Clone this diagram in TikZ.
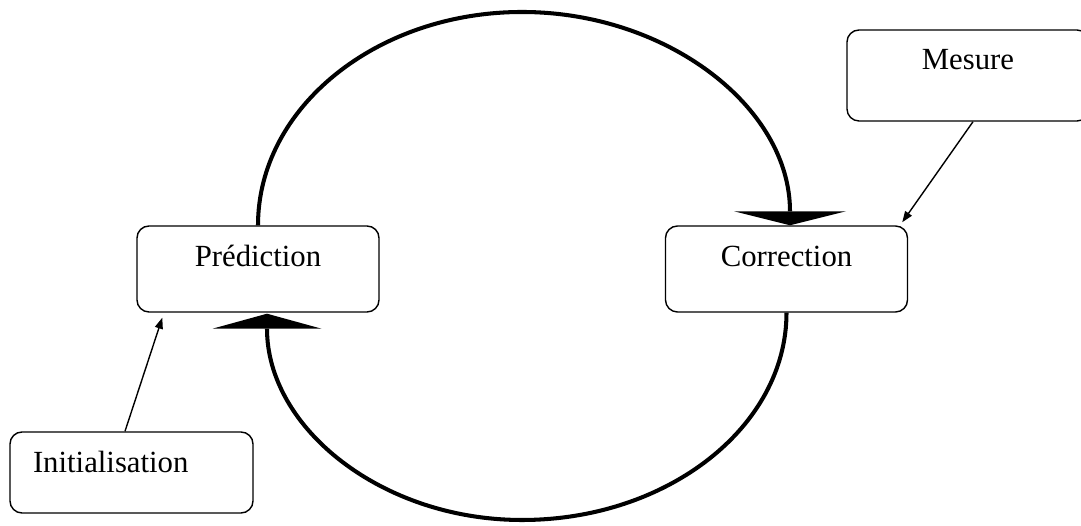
\documentclass[tikz,border=0pt]{standalone}
\usepackage{fontspec}
\setmainfont{Liberation Serif}
\usetikzlibrary{arrows.meta}
\begin{document}
\begin{tikzpicture}[
  box/.style={draw, line width=0.8pt, rounded corners=0.24cm, fill=white,
    minimum width=4.84cm, inner xsep=0pt, inner ysep=0pt,
    text height=0.82cm, text depth=0.9cm, font=\fontsize{17.5}{21}\selectfont},
  cycle/.style={line width=2.3pt},
  thin arrow/.style={line width=0.8pt, -{Triangle[length=0.22cm,width=0.16cm]}}
]
  \useasboundingbox (0,0) rectangle (21.62,10.52);

  \node[box] (pred) at (5.16,5.14) {Prédiction};
  \node[box] (corr) at (15.73,5.14) {Correction};
  \node[box, text height=0.8cm, text depth=1.02cm] (mesure) at (19.36,9.01) {Mesure};
  \node[box, text width=3.94cm, align=left, inner xsep=0.46cm,
    text depth=0.8cm] (init) at (2.63,1.07) {Initialisation};

  \coordinate (top) at (10.44,10.28);
  \coordinate (bot) at (10.44,0.12);

%  the loop
  \draw [cycle, -{Triangle[width=2.24cm,length=0.28cm,line width=0pt]}]
    (pred.north) .. controls +(0,2.36) and +(-2.9,0) .. (top)
    .. controls +(2.9,0) and +(0,2.36) .. ([xshift=0.07cm]corr.north);
  \draw [cycle, -{Triangle[width=2.18cm,length=0.3cm,line width=0pt]}]
    (corr.south) .. controls +(0,-2.29) and +(2.9,0) .. (bot)
    .. controls +(-2.8,0) and +(0,-2.29) .. ([xshift=0.18cm,yshift=-0.02cm]pred.south);

  \draw [thin arrow] ([xshift=-0.13cm]init.north) -- ([xshift=0.52cm,yshift=-0.1cm]pred.south west);
  \draw [thin arrow] ([xshift=0.1cm]mesure.south) -- ([xshift=-0.12cm,yshift=0.06cm]corr.north east);
\end{tikzpicture}
\end{document}
